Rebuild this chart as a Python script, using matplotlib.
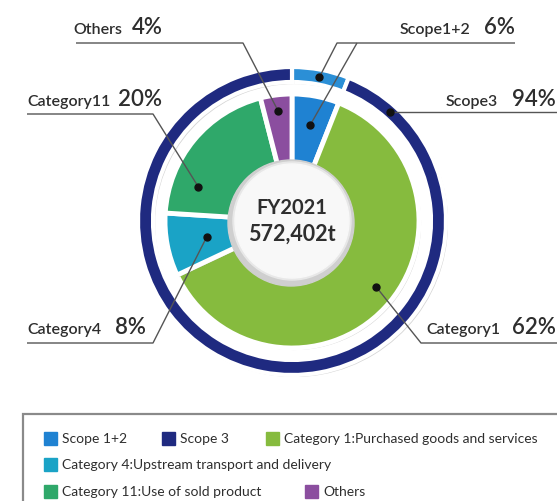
import matplotlib
matplotlib.use("Agg")
import matplotlib.pyplot as plt
import matplotlib.patheffects as pe
from matplotlib.patches import Circle, Rectangle
import numpy as np

# --------------------------------------------------------------------------- #
# Data
# --------------------------------------------------------------------------- #
scope_names = ["Scope 1+2", "Scope 3"]
scope_shares = [6, 94]

category_names = ["Scope 1+2", "Category 1", "Category 4", "Category 11", "Others"]
category_shares = [6, 62, 8, 20, 4]

total_label = ["FY2021", "572,402t"]

legend_rows = [
    ["Scope 1+2", "Scope 3", "Category 1:Purchased goods and services"],
    ["Category 4:Upstream transport and delivery"],
    ["Category 11:Use of sold product", "Others"],
]

# --------------------------------------------------------------------------- #
# Style
# --------------------------------------------------------------------------- #
SCOPE_COLORS = ["#2b8fd6", "#1f2a80"]
CAT_COLORS = ["#1f82d2", "#86bb3e", "#1aa3c6", "#2fa86a", "#8b4e9f"]
LEGEND_COLORS = {
    "Scope 1+2": "#1f82d2",
    "Scope 3": "#1f2a80",
    "Category 1:Purchased goods and services": "#86bb3e",
    "Category 4:Upstream transport and delivery": "#1aa3c6",
    "Category 11:Use of sold product": "#2fa86a",
    "Others": "#8b4e9f",
}
TXT = "#2e2e2e"
LINE = "#555555"
FONT = ["Lato", "DejaVu Sans"]

W, H = 557, 502
CX, CY = 292, H - 222
R_OUT, RING_W = 154, 15
R_IN = 127
R_HOLE = 57

plt.rcParams["font.family"] = FONT

fig = plt.figure(figsize=(W / 100, H / 100), dpi=100)
ax = fig.add_axes([0, 0, 1, 1])

shadow = [pe.SimplePatchShadow(offset=(1.5, -1.5), shadow_rgbFace="#888888", alpha=0.35),
          pe.Normal()]

ring, _ = ax.pie(scope_shares, colors=SCOPE_COLORS, startangle=90, counterclock=False,
                 center=(CX, CY), radius=R_OUT,
                 wedgeprops=dict(width=RING_W, edgecolor="white", linewidth=3))
inner, _ = ax.pie(category_shares, colors=CAT_COLORS, startangle=90, counterclock=False,
                  center=(CX, CY), radius=R_IN,
                  wedgeprops=dict(width=R_IN, edgecolor="white", linewidth=3.5))
for w in list(ring) + list(inner):
    w.set_path_effects(shadow)

# centre disc
ax.add_patch(Circle((CX - 1, CY - 2), R_HOLE + 6, color="#cfcfcf", zorder=5))
ax.add_patch(Circle((CX, CY), R_HOLE + 2, color="#e8e8e8", zorder=5))
ax.add_patch(Circle((CX, CY), R_HOLE, color="#f8f8f8", zorder=5))
ax.text(CX, H - 208, total_label[0], ha="center", va="center", fontsize=14.5,
        fontweight="bold", color=TXT, zorder=6)
ax.text(CX, H - 234, total_label[1], ha="center", va="center", fontsize=15.5,
        fontweight="bold", color=TXT, zorder=6)


def dot_at(wedge, frac, radius):
    """Point at a fraction (clockwise) through a wedge, at a given radius."""
    t1, t2 = wedge.theta1, wedge.theta2
    ang = np.deg2rad(t2 - frac * (t2 - t1))
    return CX + radius * np.cos(ang), CY + radius * np.sin(ang)


def leader(points, dot):
    xs = [p[0] for p in points] + [dot[0]]
    ys = [H - p[1] for p in points] + [dot[1]]
    ax.plot(xs, ys, color=LINE, lw=1.0, zorder=7, solid_capstyle="butt")
    ax.plot(dot[0], dot[1], "o", color="#111111", ms=5, zorder=8)


def label(name, pct, x_left, x_right, base):
    ax.text(x_left, H - base, name, ha="left", va="baseline", fontsize=11.5,
            fontweight="semibold", color=TXT, zorder=8)
    ax.text(x_right, H - base, f"{pct}%", ha="right", va="baseline", fontsize=16,
            fontweight="semibold", color=TXT, zorder=8)


ring_mid = R_OUT - RING_W / 2

# Others
label("Others", category_shares[4], 73, 163, 34)
leader([(76, 44), (243, 44)], dot_at(inner[4], 0.5, 111))

# Scope 1+2 (two leaders)
label("Scope1+2", scope_shares[0], 400, 515, 34)
leader([(515, 44), (337, 44)], dot_at(ring[0], 0.5, ring_mid))
leader([(357, 44)], dot_at(inner[0], 0.5, 98))

# Scope 3
label("Scope3", scope_shares[1], 446, 556, 106)
d = dot_at(ring[1], 0.06, ring_mid)
ax.plot([d[0], W], [d[1], d[1]], color=LINE, lw=1.0, zorder=7)
ax.plot(d[0], d[1], "o", color="#111111", ms=5, zorder=8)

# Category 11
label("Category11", category_shares[3], 27, 162, 106)
leader([(27, 115), (153, 115)], dot_at(inner[3], 0.23, 100))

# Category 4
label("Category4", category_shares[2], 27, 146, 334)
leader([(27, 344), (153, 344)], dot_at(inner[2], 0.5, 87))

# Category 1
label("Category1", category_shares[1], 426, 556, 334)
leader([(557, 344), (421, 344)], dot_at(inner[1], 0.477, 107))

# --------------------------------------------------------------------------- #
# Legend box
# --------------------------------------------------------------------------- #
ax.add_patch(Rectangle((23, -10), W + 20, H - 415 + 10, facecolor="white",
                       edgecolor="#8a8a8a", lw=1.6, zorder=2))

row_y = [439, 465, 492]
row_x = [[44, 162, 266], [44], [44, 305]]
for items, xs, y in zip(legend_rows, row_x, row_y):
    for item, x in zip(items, xs):
        ax.add_patch(Rectangle((x, H - y - 6.5), 13, 13, color=LEGEND_COLORS[item], zorder=3))
        ax.text(x + 18, H - y, item, ha="left", va="center", fontsize=10,
                color=TXT, zorder=3)

ax.set_xlim(0, W)
ax.set_ylim(0, H)
ax.set_aspect("auto")
ax.axis("off")

fig.savefig("out.png", dpi=100)
